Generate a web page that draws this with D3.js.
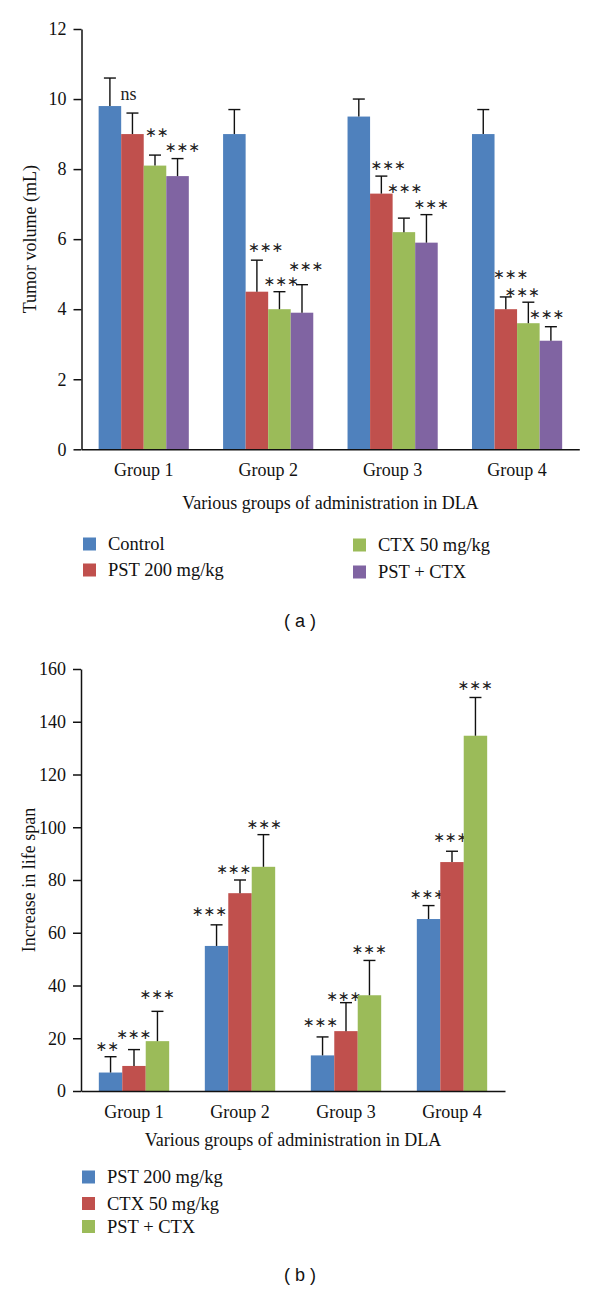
<!DOCTYPE html>
<html>
<head>
<meta charset="utf-8">
<script src="https://cdn.jsdelivr.net/npm/d3@7"></script>
<style>
  body { margin: 0; background: #fff; }
  svg { display: block; }
</style>
</head>
<body>
<div id="chart"></div>
<script>
// DATA ------------------------------------------------------------
const groups = ["Group 1", "Group 2", "Group 3", "Group 4"]

// (a) tumor volume (mL)
const seriesA = ["Control", "PST 200 mg/kg", "CTX 50 mg/kg", "PST + CTX"]
const controlVol = [9.8, 9.0, 9.5, 9.0]
const controlVolErr = [0.8, 0.7, 0.5, 0.7]
const pstVol = [9.0, 4.5, 7.3, 4.0]
const pstVolErr = [0.6, 0.9, 0.5, 0.35]
const ctxVol = [8.1, 4.0, 6.2, 3.6]
const ctxVolErr = [0.3, 0.5, 0.4, 0.6]
const comboVol = [7.8, 3.9, 5.9, 3.1]
const comboVolErr = [0.5, 0.8, 0.8, 0.4]
const sigA = [
  ["", "", "", ""],
  ["ns", "***", "***", "***"],
  ["**", "***", "***", "***"],
  ["***", "***", "***", "***"],
]
const ticksA = [0, 2, 4, 6, 8, 10, 12]

// (b) increase in life span
const seriesB = ["PST 200 mg/kg", "CTX 50 mg/kg", "PST + CTX"]
const pstLife = [7.0, 55.0, 13.5, 65.2]
const pstLifeErr = [6.0, 8.0, 7.0, 5.1]
const ctxLife = [9.5, 75.0, 22.7, 86.8]
const ctxLifeErr = [6.2, 5.0, 10.8, 4.1]
const comboLife = [18.9, 85.0, 36.3, 134.7]
const comboLifeErr = [11.3, 12.2, 13.2, 14.5]
const sigB = [
  ["**", "***", "***", "***"],
  ["***", "***", "***", "***"],
  ["***", "***", "***", "***"],
]
const ticksB = [0, 20, 40, 60, 80, 100, 120, 140, 160]

// LAYOUT ----------------------------------------------------------
const WIDTH = 600
const HEIGHT = 1290
const SERIF = "'Liberation Serif', 'DejaVu Serif', serif"
const FS = "18px"
const colorsA = ["#4f81bd", "#c0504d", "#9bbb59", "#8064a2"]
const colorsB = ["#4f81bd", "#c0504d", "#9bbb59"]

// label nudges [dx, dy] from bar centre / error cap, per series x group
const nudgeA = [
  [[0, 0], [0, 0], [0, 0], [0, 0]],
  [[-4, -18], [9, -13], [7, -11], [5, -22]],
  [[2, -23], [2, -10], [1, -30], [-6, -10]],
  [[5, -11], [4, -18], [5, -10], [-4, -12]],
]
const nudgeB = [
  [[-3, -10], [-7, -13], [-2, -14], [-1, -11]],
  [[0, -15], [-6, -10], [-2, -6], [-1, -14]],
  [[0, -17], [1, -10], [0, -11], [0, -12]],
]

const svg = d3
  .select("#chart")
  .append("svg")
  .attr("width", WIDTH)
  .attr("height", HEIGHT)

function drawPanel(p) {
  const g = svg.append("g")

  const y = d3.scaleLinear().domain([0, p.yMax]).range([p.y0, p.yTop])
  const x0 = d3.scaleBand().domain(groups).range(p.xRange).paddingInner(0).paddingOuter(0)
  const x1 = d3
    .scaleBand()
    .domain(p.series)
    .range([0, x0.bandwidth()])
    .paddingInner(0)
    .paddingOuter(0.76)

  // BARS ------------------------
  p.series.forEach((s, si) => {
    const rows = groups.map((grp, gi) => ({
      grp,
      value: p.values[si][gi],
      err: p.errors[si][gi],
      sig: p.sig[si][gi],
      nudge: p.nudge[si][gi],
    }))
    const sg = g.append("g")
    const cx = d => x0(d.grp) + x1(s) + x1.bandwidth() / 2

    sg.selectAll("rect")
      .data(rows)
      .enter()
      .append("rect")
      .attr("x", d => x0(d.grp) + x1(s))
      .attr("y", d => y(d.value))
      .attr("width", x1.bandwidth())
      .attr("height", d => p.y0 - y(d.value))
      .attr("fill", p.colors[si])

    // error bars (upper only)
    sg.selectAll("line.err")
      .data(rows)
      .enter()
      .append("line")
      .attr("x1", cx)
      .attr("x2", cx)
      .attr("y1", d => y(d.value))
      .attr("y2", d => y(d.value + d.err))
      .attr("stroke", "#111")
      .attr("stroke-width", 1.4)
    sg.selectAll("line.cap")
      .data(rows)
      .enter()
      .append("line")
      .attr("x1", d => cx(d) - 6)
      .attr("x2", d => cx(d) + 6)
      .attr("y1", d => y(d.value + d.err))
      .attr("y2", d => y(d.value + d.err))
      .attr("stroke", "#111")
      .attr("stroke-width", 1.4)

    // significance marks
    sg.selectAll("text.sig")
      .data(rows.filter(d => d.sig))
      .enter()
      .append("text")
      .attr("x", d => cx(d) + d.nudge[0])
      .attr("y", d => y(d.value + d.err) + d.nudge[1])
      .attr("text-anchor", "middle")
      .attr("fill", "#222")
      .each(function (d) {
        const t = d3.select(this)
        if (d.sig === "ns") {
          t.attr("dy", "0.3em").style("font-family", SERIF).style("font-size", FS).text("ns")
        } else {
          t.attr("dy", "0.32em")
            .style("font-family", "'DejaVu Sans', sans-serif")
            .style("font-size", "14px")
            .text(d.sig.replace(/\*/g, "\u2217"))
        }
      })
  })

  // AXES ------------------------
  const gY = g.append("g").attr("transform", `translate(${p.xRange[0]},0)`)
  gY.call(d3.axisLeft(y).tickValues(p.ticks).tickSize(8).tickSizeOuter(0).tickPadding(7))
  gY.select(".domain").attr("stroke", "#111").attr("stroke-width", 1.5)
  gY.selectAll(".tick line").attr("stroke", "#111").attr("stroke-width", 1.5)
  gY.selectAll("text").style("font-family", SERIF).style("font-size", FS).attr("fill", "#111")

  const gX = g.append("g").attr("transform", `translate(0,${p.y0})`)
  gX.call(d3.axisBottom(x0).tickSize(0).tickSizeOuter(0).tickPadding(14))
  gX.select(".domain").attr("stroke", "#111").attr("stroke-width", 1.5)
  gX.selectAll("text").style("font-family", SERIF).style("font-size", FS).attr("fill", "#111")

  g.append("text")
    .attr("x", (p.xRange[0] + p.xRange[1]) / 2)
    .attr("y", p.xTitleY)
    .attr("text-anchor", "middle")
    .style("font-family", SERIF)
    .style("font-size", FS)
    .attr("fill", "#111")
    .text("Various groups of administration in DLA")

  g.append("text")
    .attr("transform", `translate(${p.yTitleX},${(p.y0 + p.yTop) / 2}) rotate(-90)`)
    .attr("text-anchor", "middle")
    .attr("dy", "0.35em")
    .style("font-family", SERIF)
    .style("font-size", FS)
    .attr("fill", "#111")
    .text(p.yTitle)

  // LEGEND ----------------------
  const leg = g
    .selectAll("g.legend")
    .data(p.series)
    .enter()
    .append("g")
    .attr("transform", (d, i) => `translate(${p.legendPos[i][0]},${p.legendPos[i][1]})`)
  leg.append("rect")
    .attr("x", 0)
    .attr("y", -6.5)
    .attr("width", 13)
    .attr("height", 13)
    .attr("fill", (d, i) => p.colors[i])
  leg.append("text")
    .attr("x", 25)
    .attr("dy", "0.35em")
    .style("font-family", SERIF)
    .style("font-size", "18.5px")
    .attr("fill", "#111")
    .text(d => d)

  g.append("text")
    .attr("x", WIDTH / 2)
    .attr("y", p.captionY)
    .attr("text-anchor", "middle")
    .attr("dy", "0.35em")
    .style("font-family", "'Liberation Sans', Arial, sans-serif")
    .style("font-size", "18px")
    .attr("fill", "#111")
    .text(p.caption)
}

drawPanel({
  series: seriesA,
  colors: colorsA,
  values: [controlVol, pstVol, ctxVol, comboVol],
  errors: [controlVolErr, pstVolErr, ctxVolErr, comboVolErr],
  sig: sigA,
  nudge: nudgeA,
  ticks: ticksA,
  yMax: 12,
  y0: 449.3,
  yTop: 29,
  xRange: [81.5, 579.3],
  xTitleY: 509,
  yTitle: "Tumor volume (mL)",
  yTitleX: 30,
  legendPos: [[83, 544], [83, 570], [353, 545], [353, 572]],
  caption: "( a )",
  captionY: 621,
})

drawPanel({
  series: seriesB,
  colors: colorsB,
  values: [pstLife, ctxLife, comboLife],
  errors: [pstLifeErr, ctxLifeErr, comboLifeErr],
  sig: sigB,
  nudge: nudgeB,
  ticks: ticksB,
  yMax: 160,
  y0: 1091,
  yTop: 669,
  xRange: [81, 505],
  xTitleY: 1146,
  yTitle: "Increase in life span",
  yTitleX: 29,
  legendPos: [[82, 1177], [82, 1203.5], [82, 1226.5]],
  caption: "( b )",
  captionY: 1275,
})
</script>
</body>
</html>
